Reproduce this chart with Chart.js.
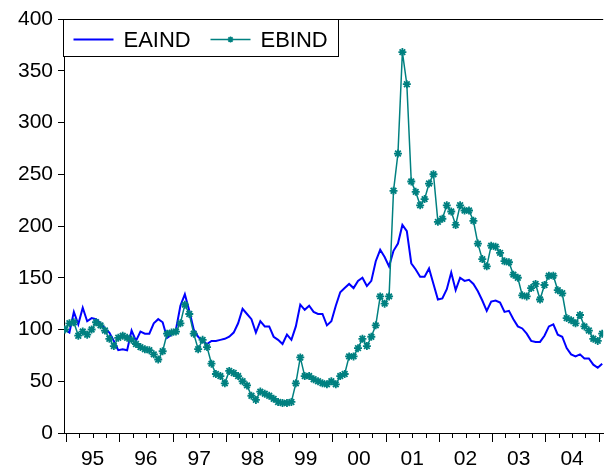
<!DOCTYPE html>
<html>
<head>
<meta charset="utf-8">
<script src="https://cdn.jsdelivr.net/npm/chart.js@4.4.1/dist/chart.umd.min.js"></script>
<style>
  html, body { margin: 0; padding: 0; background: #fff; }
  #wrap { width: 609px; height: 472px; }
</style>
</head>
<body>
<div id="wrap"><canvas id="chart" width="609" height="472"></canvas></div>
<script>
// Data (monthly, first point = 1995M01)
const YEAR_LABELS = ['95', '96', '97', '98', '99', '00', '01', '02', '03', '04'];
const Y_TICKS = [0, 50, 100, 150, 200, 250, 300, 350, 400];

const EAIND = [
  100, 97, 117, 105, 121, 108, 111, 110, 106, 101, 97, 89,
  80, 81, 80, 99, 89, 98, 96, 96, 106, 110, 107, 92,
  95, 100, 123, 134, 118, 100, 93, 89, 86, 89, 89, 90,
  91, 93, 97, 106, 120, 115, 110, 97, 108, 103, 103, 93,
  90, 86, 95, 90, 103, 124, 119, 123, 117, 115, 115, 104,
  108, 123, 136, 140, 144, 140, 147, 150, 142, 147, 166, 177,
  170, 161, 176, 183, 201, 195, 164, 158, 151, 151, 159, 144,
  129, 130, 139, 155, 138, 150, 147, 148, 144, 137, 128, 118,
  127, 128, 126, 117, 118, 110, 103, 101, 96, 89, 88, 88,
  94, 103, 105, 95, 93, 82, 76, 74, 76, 72, 72, 66,
  63, 67
];

const EBIND = [
  100, 106, 107, 94, 98, 95, 100, 107, 104, 99, 91, 84,
  92, 94, 92, 90, 86, 83, 81, 80, 76, 71, 79, 96,
  97, 98, 106, 124, 115, 96, 81, 90, 83, 67, 57, 55,
  48, 60, 58, 55, 50, 46, 36, 32, 40, 38, 36, 33,
  30, 29, 29, 30, 48, 73, 55, 55, 52, 50, 48, 47,
  50, 47, 55, 57, 74, 74, 82, 91, 84, 93, 104, 132,
  125, 132, 234, 270, 368, 337, 243, 233, 220, 226, 241, 250,
  204, 207, 220, 214, 201, 220, 215, 215, 205, 183, 168, 161,
  181, 180, 174, 166, 165, 153, 150, 133, 132, 140, 144, 129,
  143, 152, 152, 138, 135, 111, 109, 106, 114, 103, 99, 91,
  89, 96
];

// Colors & fonts
const BLUE = '#0000ff';
const TEAL = '#008080';
const FONT = "'Liberation Sans', Arial, Helvetica, sans-serif";

// year boundary ticks sit a touch right of the January observation
const TICK_OFFSET = 0.22;

// Draws the boxed legend in the top left corner
const legendBox = {
  id: 'legendBox',
  afterDraw(chart) {
    const ctx = chart.ctx;
    const a = chart.chartArea;
    ctx.save();
    // top frame line
    ctx.strokeStyle = '#000';
    ctx.lineWidth = 1;
    ctx.beginPath();
    ctx.moveTo(a.left, a.top + 0.5);
    ctx.lineTo(a.right, a.top + 0.5);
    ctx.stroke();

    const x0 = a.left - 0.5, y0 = a.top + 0.5;
    ctx.fillStyle = '#fff';
    ctx.fillRect(x0, y0, 275, 37);
    ctx.strokeRect(x0, y0, 275, 37);

    const cy = y0 + 20;
    ctx.lineWidth = 2;
    ctx.strokeStyle = BLUE;
    ctx.beginPath();
    ctx.moveTo(x0 + 10, cy);
    ctx.lineTo(x0 + 50, cy);
    ctx.stroke();

    ctx.lineWidth = 1.5;
    ctx.strokeStyle = TEAL;
    ctx.beginPath();
    ctx.moveTo(x0 + 147, cy);
    ctx.lineTo(x0 + 187, cy);
    ctx.stroke();
    Chart.helpers.drawPoint(ctx, { pointStyle: 'star', radius: 3, borderWidth: 1.5 }, x0 + 167, cy);

    ctx.fillStyle = '#000';
    ctx.font = '22px ' + FONT;
    ctx.textBaseline = 'middle';
    ctx.fillText('EAIND', x0 + 60, cy + 1);
    ctx.fillText('EBIND', x0 + 197, cy + 1);
    ctx.restore();
  }
};

// Year (long) and quarter (short) tick marks under the x axis
const xTickMarks = {
  id: 'xTickMarks',
  afterDraw(chart) {
    const ctx = chart.ctx;
    const xs = chart.scales.x;
    const yb = chart.chartArea.bottom;
    ctx.save();
    ctx.strokeStyle = '#000';
    ctx.lineWidth = 1;
    ctx.beginPath();
    for (let q = 0; q * 3 + TICK_OFFSET <= xs.max; q++) {
      const v = q * 3 + TICK_OFFSET;
      const px = Math.round(xs.getPixelForValue(v)) + 0.5;
      const len = q % 4 === 0 ? 9 : 5;
      ctx.moveTo(px, yb);
      ctx.lineTo(px, yb + len);
    }
    ctx.stroke();
    ctx.restore();
  }
};

const ctx = document.getElementById('chart').getContext('2d');
new Chart(ctx, {
  type: 'line',
  data: {
    datasets: [
      {
        label: 'EAIND',
        data: EAIND.map((v, i) => ({ x: i, y: v })),
        borderColor: BLUE,
        borderWidth: 2,
        pointRadius: 0,
        tension: 0,
        order: 1
      },
      {
        label: 'EBIND',
        data: EBIND.map((v, i) => ({ x: i, y: v })),
        borderColor: TEAL,
        backgroundColor: TEAL,
        borderWidth: 1.5,
        pointStyle: 'star',
        pointRadius: 4,
        pointBorderColor: TEAL,
        pointBorderWidth: 1.8,
        tension: 0,
        order: 0
      }
    ]
  },
  options: {
    responsive: false,
    animation: false,
    devicePixelRatio: 1,
    layout: { padding: { top: 19, right: 0, bottom: 0, left: 0 } },
    plugins: {
      legend: { display: false },
      tooltip: { enabled: false }
    },
    scales: {
      x: {
        type: 'linear',
        min: -0.22,
        max: 121.23,
        grid: { drawOnChartArea: false, drawTicks: false },
        border: { color: '#000', width: 1 },
        afterBuildTicks: scale => {
          scale.ticks = YEAR_LABELS.map((_, k) => ({ value: k * 12 + 6 + TICK_OFFSET }));
        },
        afterFit: scale => { scale.height = 39; },
        ticks: {
          autoSkip: false,
          maxRotation: 0,
          padding: 14,
          color: '#000',
          font: { family: FONT, size: 21 },
          callback: (val, idx) => YEAR_LABELS[idx]
        }
      },
      y: {
        min: 0,
        max: 400,
        grid: { drawOnChartArea: false, drawTicks: true, tickLength: 6, tickColor: '#000' },
        border: { color: '#000', width: 1 },
        afterBuildTicks: scale => {
          scale.ticks = Y_TICKS.map(v => ({ value: v }));
        },
        afterFit: scale => { scale.width = 64; },
        ticks: {
          padding: 5,
          color: '#000',
          font: { family: FONT, size: 21 }
        }
      }
    }
  },
  plugins: [legendBox, xTickMarks]
});
</script>
</body>
</html>
